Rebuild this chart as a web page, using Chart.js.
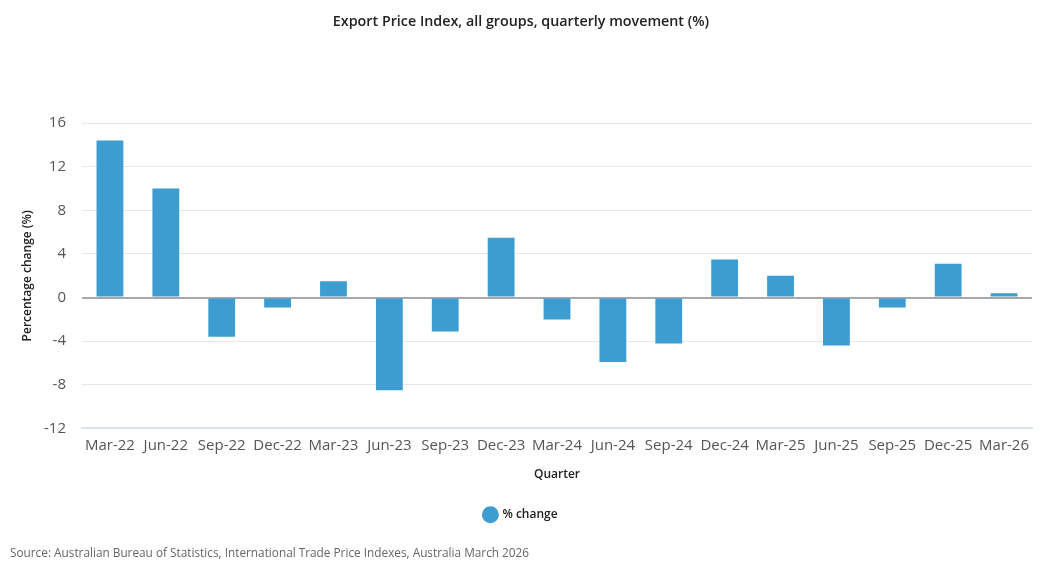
<!DOCTYPE html>
<html lang="en">

<head>
  <meta charset="UTF-8" />
  <title>Export Price Index</title>
  <script src="https://cdn.jsdelivr.net/npm/chart.js"></script>
  <style>
    * {
      box-sizing: border-box;
      margin: 0;
      padding: 0
    }

    body {
      background: #fff;
      font-family: 'Open Sans', sans-serif
    }

    .wrap {
      width: 1042px;
      height: 579px
    }
  </style>
</head>

<body>
  <div class="wrap"><canvas id="grafico" width="1042" height="579"></canvas></div>
  <script>
    const quarters = ['Mar-22', 'Jun-22', 'Sep-22', 'Dec-22', 'Mar-23', 'Jun-23', 'Sep-23', 'Dec-23', 'Mar-24',
      'Jun-24', 'Sep-24', 'Dec-24', 'Mar-25', 'Jun-25', 'Sep-25', 'Dec-25', 'Mar-26'];
    const pctChange = [14.4, 10.0, -3.6, -0.9, 1.5, -8.5, -3.1, 5.5, -2.0, -5.9, -4.2, 3.5, 2.0, -4.4, -0.9, 3.1, 0.4];
    const yTicks = [-12, -8, -4, 0, 4, 8, 12, 16];

    const barColor = '#3d9dd1';
    const font = "'Open Sans', sans-serif";

    const ctx = document.getElementById('grafico').getContext('2d');
    new Chart(ctx, {
      type: 'bar',
      data: {
        labels: quarters,
        datasets: [{
          label: '% change',
          data: pctChange,
          backgroundColor: barColor,
          borderWidth: 0,
          barPercentage: 0.96,
          categoryPercentage: 0.5
        }]
      },
      options: {
        responsive: false,
        animation: false,
        layout: { padding: { left: 10, right: 10, top: 13, bottom: 18 } },
        plugins: {
          title: {
            display: true,
            text: 'Export Price Index, all groups, quarterly movement (%)',
            color: '#222',
            font: { family: font, size: 14.3, weight: '600' },
            padding: { top: 0, bottom: 93 }
          },
          subtitle: {
            display: true,
            position: 'bottom',
            align: 'start',
            text: 'Source: Australian Bureau of Statistics, International Trade Price Indexes, Australia March 2026',
            color: '#666',
            font: { family: font, size: 11.8, weight: '400' },
            padding: { top: 16, bottom: 0 }
          },
          legend: {
            position: 'bottom',
            labels: {
              usePointStyle: true,
              pointStyle: 'circle',
              boxWidth: 16,
              boxHeight: 16,
              color: '#222',
              font: { family: font, size: 12, weight: '600' },
              padding: 16
            }
          },
          tooltip: { enabled: false }
        },
        scales: {
          x: {
            grid: { display: false },
            border: { color: '#dde3f3', width: 2 },
            ticks: { color: '#555', font: { family: font, size: 15 }, maxRotation: 0, autoSkip: false, padding: 0 },
            title: {
              display: true,
              text: 'Quarter',
              color: '#222',
              font: { family: font, size: 12, weight: '600' },
              padding: { top: 13, bottom: 11 }
            }
          },
          y: {
            min: yTicks[0],
            max: yTicks[yTicks.length - 1],
            afterBuildTicks: axis => { axis.ticks = yTicks.map(v => ({ value: v })); },
            afterFit: axis => { axis.width = 72; },
            border: { display: false },
            grid: {
              color: c => c.tick && c.tick.value === 0 ? '#a8a8a8' : '#e6e6e6',
              lineWidth: c => c.tick && c.tick.value === 0 ? 2 : 1,
              drawTicks: false
            },
            ticks: { color: '#555', font: { family: font, size: 15 }, padding: 16 },
            title: {
              display: true,
              text: 'Percentage change (%)',
              color: '#222',
              font: { family: font, size: 12, weight: '600' },
              padding: { top: 10, bottom: 0 }
            }
          }
        }
      }
    });
  </script>
</body>

</html>
